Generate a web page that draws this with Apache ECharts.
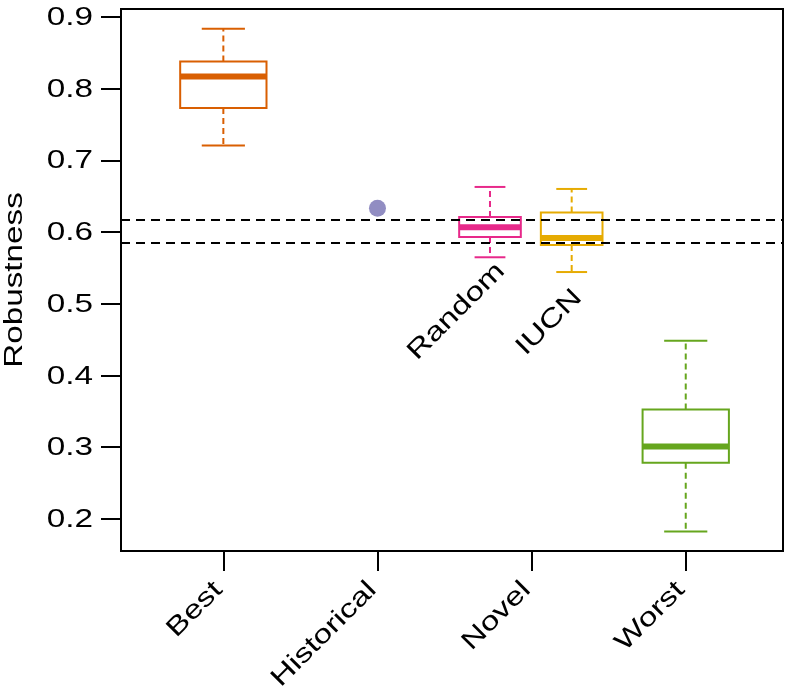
<!DOCTYPE html>
<html>
<head>
<meta charset="utf-8">
<script src="https://cdn.jsdelivr.net/npm/echarts@6/dist/echarts.min.js"></script>
<style>
html,body{margin:0;padding:0;background:#fff;}
#chart{width:788px;height:697px;}
</style>
</head>
<body>
<div id="chart"></div>
<script>
// ---- data ----
const categories = ['Best', 'Historical', 'Novel', 'Worst'];
const categoryPos = [1, 2, 3, 4];
const yTicks = [0.2, 0.3, 0.4, 0.5, 0.6, 0.7, 0.8, 0.9];
const yTickLabels = ['0.2', '0.3', '0.4', '0.5', '0.6', '0.7', '0.8', '0.9'];

const boxNames = ['Best', 'Random', 'IUCN', 'Worst'];
const boxPos = [1, 2.73, 3.26, 4];
const boxWidth = [0.56, 0.40, 0.40, 0.56];
const whiskerLow = [0.7205, 0.5647, 0.5441, 0.1823];
const q1 = [0.7730, 0.5930, 0.5818, 0.2782];
const median = [0.8168, 0.6065, 0.5916, 0.3009];
const q3 = [0.8378, 0.6210, 0.6270, 0.3525];
const whiskerHigh = [0.8833, 0.6628, 0.6600, 0.4484];
const boxColors = ['#D95F02', '#E7298A', '#E6AB02', '#66A61E'];

const historicalPoint = [2, 0.633];
const historicalColor = '#7570B3';
const refLines = [0.6177, 0.5852];

const innerLabels = ['Random', 'IUCN'];
const innerLabelX = [2.80, 3.30];
const innerLabelY = [0.551, 0.514];

const yAxisName = 'Robustness';

// ---- axis ranges ----
const xMin = 0.336, xMax = 4.631;
const yMin = 0.155, yMax = 0.911;

const FONT = '26px "Liberation Sans", Arial, Helvetica, sans-serif';
const STRETCH = 1.28;

const chart = echarts.init(document.getElementById('chart'), null, {renderer: 'canvas'});

const boxData = boxPos.map((p, i) => [p, whiskerLow[i], q1[i], median[i], q3[i], whiskerHigh[i], boxWidth[i], i]);

function renderBox(params, api) {
  const x = api.value(0);
  const w = api.value(6);
  const idx = api.value(7);
  const color = boxColors[idx];
  const left = api.coord([x - w / 2, 0])[0];
  const right = api.coord([x + w / 2, 0])[0];
  const capL = api.coord([x - w / 4, 0])[0];
  const capR = api.coord([x + w / 4, 0])[0];
  const cx = api.coord([x, 0])[0];
  const yLo = api.coord([x, api.value(1)])[1];
  const yQ1 = api.coord([x, api.value(2)])[1];
  const yMed = api.coord([x, api.value(3)])[1];
  const yQ3 = api.coord([x, api.value(4)])[1];
  const yHi = api.coord([x, api.value(5)])[1];
  const solid = {stroke: color, lineWidth: 2, fill: null};
  const dashed = {stroke: color, lineWidth: 2, lineDash: [6, 4], fill: null};
  return {
    type: 'group',
    children: [
      {type: 'line', shape: {x1: cx, y1: yQ3, x2: cx, y2: yHi}, style: dashed},
      {type: 'line', shape: {x1: cx, y1: yQ1, x2: cx, y2: yLo}, style: dashed},
      {type: 'line', shape: {x1: capL, y1: yHi, x2: capR, y2: yHi}, style: solid},
      {type: 'line', shape: {x1: capL, y1: yLo, x2: capR, y2: yLo}, style: solid},
      {type: 'rect', shape: {x: left, y: yQ3, width: right - left, height: yQ1 - yQ3}, style: {stroke: color, lineWidth: 2, fill: '#fff'}},
      {type: 'line', shape: {x1: left, y1: yMed, x2: right, y2: yMed}, style: {stroke: color, lineWidth: 6}}
    ]
  };
}

function textEl(x, y, text, align, vAlign, rotation) {
  return {
    type: 'text', x: x, y: y, rotation: rotation || 0, scaleX: STRETCH, scaleY: 1,
    style: {text: text, x: 0, y: 0, align: align, verticalAlign: vAlign, font: FONT, fill: '#000'}
  };
}

const option = {
  animation: false,
  backgroundColor: '#fff',
  grid: {left: 121, right: 5, top: 9, bottom: 146, show: true, borderColor: '#000', borderWidth: 2, backgroundColor: 'transparent'},
  xAxis: {
    type: 'value', min: xMin, max: xMax,
    axisLine: {show: true, onZero: false, lineStyle: {color: '#000', width: 2}},
    axisTick: {show: true, inside: false, length: 20, customValues: categoryPos, lineStyle: {color: '#000', width: 2}},
    axisLabel: {show: false},
    splitLine: {show: false}
  },
  yAxis: {
    type: 'value', min: yMin, max: yMax,
    axisLine: {show: true, onZero: false, lineStyle: {color: '#000', width: 2}},
    axisTick: {show: true, inside: false, length: 20, customValues: yTicks, lineStyle: {color: '#000', width: 2}},
    axisLabel: {show: false},
    splitLine: {show: false}
  },
  series: [
    {
      type: 'scatter',
      data: [historicalPoint],
      symbol: 'circle', symbolSize: 17,
      itemStyle: {color: historicalColor},
      z: 3,
      markLine: {
        silent: true, symbol: ['none', 'none'], precision: 6,
        label: {show: false},
        lineStyle: {color: '#000', width: 2, type: [9, 6]},
        data: refLines.map(v => ({yAxis: v}))
      }
    },
    {
      type: 'custom', renderItem: renderBox, data: boxData, z: 4,
      encode: {x: 0, y: [1, 5]}
    },
    {
      type: 'custom', z: 5, clip: false,
      data: yTicks.map((v, i) => [xMin, v, i]),
      renderItem: (params, api) => {
        const p = api.coord([api.value(0), api.value(1)]);
        return textEl(p[0] - 28, p[1] + 1, yTickLabels[api.value(2)], 'right', 'middle', 0);
      }
    },
    {
      type: 'custom', z: 5, clip: false,
      data: categoryPos.map((v, i) => [v, yMin, i]),
      renderItem: (params, api) => {
        const p = api.coord([api.value(0), api.value(1)]);
        return textEl(p[0] - 5, p[1] + 35, categories[api.value(2)], 'right', 'middle', Math.PI / 4);
      }
    },
    {
      type: 'custom', z: 5, clip: false,
      data: innerLabelX.map((v, i) => [v, innerLabelY[i], i]),
      renderItem: (params, api) => {
        const p = api.coord([api.value(0), api.value(1)]);
        return textEl(p[0], p[1], innerLabels[api.value(2)], 'right', 'middle', Math.PI / 4);
      }
    },
    {
      type: 'custom', z: 5, clip: false,
      data: [[xMin, (yMin + yMax) / 2]],
      renderItem: (params, api) => {
        const p = api.coord([api.value(0), api.value(1)]);
        return textEl(p[0] - 106, p[1], yAxisName, 'center', 'middle', Math.PI / 2);
      }
    }
  ]
};
chart.setOption(option);
</script>
</body>
</html>
